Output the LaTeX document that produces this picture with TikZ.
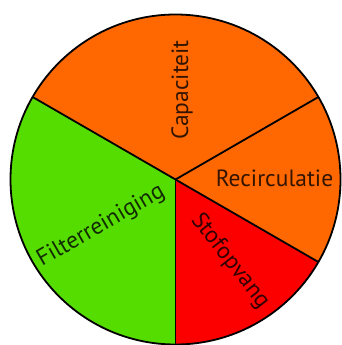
\documentclass[tikz,border=0pt]{standalone}
\usepackage{fontspec}
\setmainfont{PT Sans}
\definecolor{oranje}{RGB}{255,104,0}
\definecolor{groen}{RGB}{86,221,0}
\definecolor{rood}{RGB}{252,0,0}
\begin{document}
\begin{tikzpicture}[x=1pt, y=1pt, line width=1.8pt,
        deel/.style={font=\fontsize{23.5}{27}\selectfont, text=black, text opacity=0.8, inner sep=0pt}]
        \useasboundingbox (0,0) rectangle (341,345);
        \coordinate (M) at (175.5,165.5);

        \fill[oranje] (M) -- ++(30:165) arc (30:150:165) -- cycle;
        \fill[groen] (M) -- ++(150:165) arc (150:270:165) -- cycle;
        \fill[rood] (M) -- ++(270:165) arc (270:330:165) -- cycle;
        \fill[oranje] (M) -- ++(330:165) arc (330:390:165) -- cycle;

        \foreach \a in {30,150,270,330}
          \draw (M) -- ++(\a:165);
        \draw (M) circle (165);

        \node[deel, rotate=90] (cap) at (182,255) {Capaciteit};
        \node[deel] (rec) at (274.5,167) {Recirculatie};
        \node[deel, rotate=30] (fil) at (101,119) {Filterreiniging};
        \node[deel, rotate=-52] (sto) at (230,84) {Stofopvang};
        \end{tikzpicture}
\end{document}
